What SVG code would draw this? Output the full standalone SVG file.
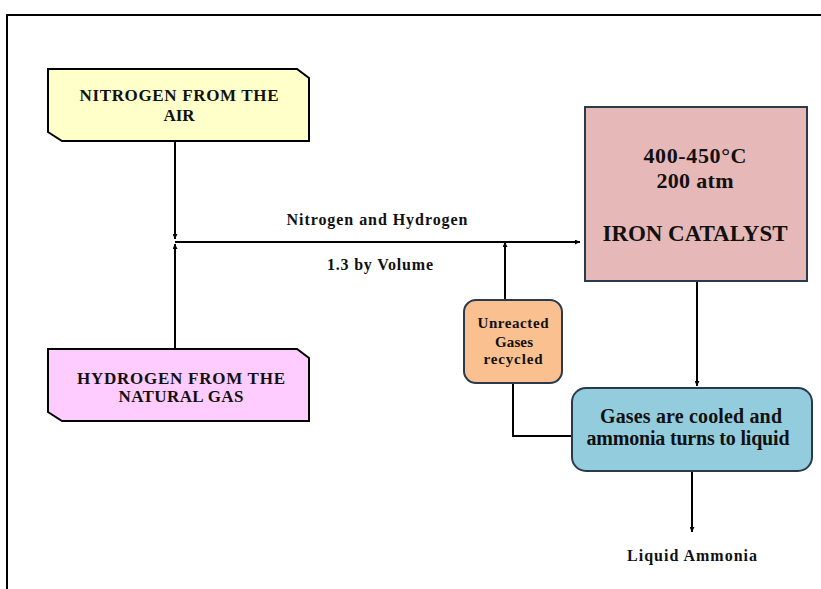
<svg xmlns="http://www.w3.org/2000/svg" width="821" height="589" viewBox="0 0 821 589">
<style>
text{font-family:"Liberation Serif","Times New Roman",serif;font-weight:bold;fill:#111;text-anchor:middle}
.ln{fill:none;stroke:#000;stroke-width:2}
.box1{stroke:#000;stroke-width:2}
.box2{stroke:#2a3a4e;stroke-width:2}
</style>
<defs>
<marker id="ah" viewBox="0 0 10 10" refX="10" refY="5" markerWidth="5" markerHeight="5" orient="auto" markerUnits="userSpaceOnUse">
<path d="M0,0 L10,5 L0,10 z" fill="#000"/>
</marker>
</defs>
<rect width="821" height="589" fill="#fff"/>
<path d="M7,589 V15 H821" fill="none" stroke="#000" stroke-width="2"/>
<g id="connectors">
<path class="ln" d="M175,142 V239" marker-end="url(#ah)"/>
<path class="ln" d="M175,349 V244" marker-end="url(#ah)"/>
<path class="ln" d="M175,242 H580" marker-end="url(#ah)"/>
<path class="ln" d="M505,300 V242" marker-end="url(#ah)"/>
<path class="ln" d="M513,383 V436 H572"/>
<path class="ln" d="M697,281 V386" marker-end="url(#ah)"/>
<path class="ln" d="M692,471 V532" marker-end="url(#ah)"/>
<text x="377" y="225" font-size="16" textLength="181" lengthAdjust="spacing">Nitrogen and Hydrogen</text>
<text x="380" y="270" font-size="16" textLength="106" lengthAdjust="spacing">1.3 by Volume</text>
<text x="692" y="561" font-size="16" textLength="130" lengthAdjust="spacing">Liquid Ammonia</text>
</g>
<g id="nitrogen">
<path class="box1" fill="#ffffc9" d="M48,69 H297 L309,78 V141 H62 L48,132 Z"/>
<text x="179" y="101" font-size="17" textLength="199" lengthAdjust="spacing">NITROGEN FROM THE</text>
<text x="179" y="121" font-size="17">AIR</text>
</g>
<g id="hydrogen">
<path class="box1" fill="#ffccff" d="M48,349 H297 L309,358 V421 H62 L48,412 Z"/>
<text x="181" y="384" font-size="17" textLength="208" lengthAdjust="spacing">HYDROGEN FROM THE</text>
<text x="181" y="402" font-size="17" textLength="125" lengthAdjust="spacing">NATURAL GAS</text>
</g>
<g id="iron">
<rect class="box2" x="585" y="107" width="222" height="174" fill="#e6b8b7"/>
<text x="695" y="163" font-size="22" textLength="103" lengthAdjust="spacing">400-450°C</text>
<text x="695" y="188" font-size="22" textLength="77" lengthAdjust="spacing">200 atm</text>
<text x="695" y="241" font-size="23" textLength="185" lengthAdjust="spacing">IRON CATALYST</text>
</g>
<g id="recycled">
<rect class="box2" x="464" y="300" width="98" height="83" rx="12" fill="#fac090"/>
<text x="513" y="328" font-size="15" textLength="71" lengthAdjust="spacing">Unreacted</text>
<text x="514" y="347" font-size="15" textLength="38" lengthAdjust="spacing">Gases</text>
<text x="513" y="364" font-size="15" textLength="59" lengthAdjust="spacing">recycled</text>
</g>
<g id="cooling">
<rect class="box2" x="572" y="388" width="240" height="83" rx="14" fill="#93cddd"/>
<text x="691" y="423" font-size="20" textLength="182" lengthAdjust="spacing">Gases are cooled and</text>
<text x="688" y="445" font-size="20" textLength="203" lengthAdjust="spacing">ammonia turns to liquid</text>
</g>
</svg>
